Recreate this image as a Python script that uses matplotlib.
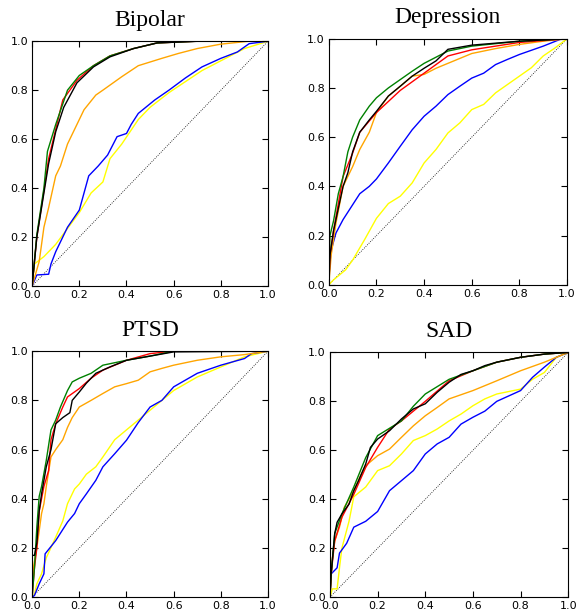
import matplotlib
matplotlib.use('Agg')
import matplotlib.pyplot as plt
import numpy as np

# ROC curves, as (fpr, tpr) pairs
titles = ['Bipolar', 'Depression', 'PTSD', 'SAD']
colors = ['yellow', 'blue', 'orange', 'red', 'green', 'black']

bipolar_yellow = [[0,0],[0.01,0.09],[0.05,0.12],[0.1,0.17],[0.15,0.235],[0.2,0.3],[0.25,0.38],[0.3,0.425],[0.33,0.52],[0.38,0.58],[0.45,0.68],[0.5,0.73],[0.58,0.79],[0.65,0.835],[0.72,0.88],[0.8,0.92],[0.9,0.97],[1,1]]
bipolar_blue = [[0,0],[0.02,0.045],[0.07,0.048],[0.08,0.09],[0.1,0.14],[0.15,0.24],[0.2,0.31],[0.24,0.45],[0.28,0.49],[0.32,0.535],[0.36,0.61],[0.4,0.623],[0.42,0.66],[0.45,0.705],[0.52,0.76],[0.58,0.8],[0.65,0.85],[0.72,0.895],[0.8,0.93],[0.87,0.956],[0.92,0.99],[1,1]]
bipolar_orange = [[0,0],[0.03,0.1],[0.05,0.24],[0.07,0.32],[0.1,0.45],[0.12,0.49],[0.15,0.58],[0.18,0.64],[0.22,0.72],[0.27,0.78],[0.3,0.8],[0.38,0.855],[0.45,0.9],[0.55,0.93],[0.62,0.95],[0.7,0.97],[0.8,0.988],[0.92,1],[1,1]]
bipolar_red = [[0,0],[0.02,0.2],[0.05,0.39],[0.07,0.52],[0.1,0.64],[0.13,0.76],[0.19,0.84],[0.26,0.9],[0.33,0.94],[0.43,0.97],[0.53,0.993],[0.7,1],[1,1]]
bipolar_green = [[0,0],[0.02,0.21],[0.05,0.4],[0.065,0.55],[0.1,0.66],[0.15,0.8],[0.2,0.86],[0.26,0.9],[0.33,0.94],[0.43,0.97],[0.53,0.993],[0.7,1],[1,1]]
bipolar_black = [[0,0],[0.02,0.2],[0.05,0.38],[0.07,0.5],[0.1,0.63],[0.134,0.73],[0.19,0.83],[0.26,0.895],[0.33,0.936],[0.43,0.97],[0.53,0.993],[0.71,1],[1,1]]

depression_yellow = [[0,0],[0.02,0.02],[0.07,0.06],[0.1,0.1],[0.15,0.183],[0.2,0.27],[0.25,0.33],[0.3,0.36],[0.35,0.414],[0.4,0.495],[0.45,0.55],[0.5,0.617],[0.55,0.658],[0.6,0.712],[0.65,0.733],[0.7,0.78],[0.75,0.814],[0.8,0.848],[0.85,0.882],[0.9,0.93],[0.95,0.963],[1,1]]
depression_blue = [[0,0],[0.005,0.09],[0.01,0.14],[0.03,0.21],[0.06,0.265],[0.1,0.325],[0.13,0.37],[0.17,0.4],[0.2,0.43],[0.25,0.495],[0.3,0.563],[0.35,0.63],[0.4,0.685],[0.45,0.726],[0.5,0.773],[0.55,0.807],[0.6,0.84],[0.65,0.86],[0.7,0.895],[0.75,0.916],[0.8,0.936],[0.9,0.97],[0.97,0.997],[1,1]]
depression_orange = [[0,0],[0.01,0.12],[0.03,0.25],[0.06,0.4],[0.1,0.48],[0.13,0.55],[0.17,0.62],[0.2,0.7],[0.25,0.767],[0.3,0.807],[0.35,0.848],[0.4,0.855],[0.45,0.88],[0.5,0.9],[0.55,0.92],[0.6,0.94],[0.7,0.96],[0.8,0.977],[0.9,0.99],[1,1]]
depression_red = [[0,0],[0.005,0.12],[0.02,0.22],[0.06,0.44],[0.1,0.535],[0.13,0.62],[0.2,0.7],[0.3,0.79],[0.4,0.86],[0.5,0.93],[0.6,0.955],[0.8,0.985],[1,1]]
depression_green = [[0,0],[0.005,0.2],[0.02,0.26],[0.04,0.37],[0.06,0.44],[0.08,0.54],[0.1,0.6],[0.13,0.67],[0.17,0.726],[0.2,0.76],[0.25,0.8],[0.3,0.834],[0.35,0.868],[0.4,0.9],[0.5,0.95],[0.6,0.97],[0.8,0.99],[1,1]]
depression_black = [[0,0],[0.005,0.12],[0.02,0.22],[0.06,0.4],[0.08,0.455],[0.1,0.54],[0.13,0.62],[0.17,0.67],[0.2,0.705],[0.25,0.767],[0.3,0.807],[0.35,0.848],[0.4,0.88],[0.45,0.91],[0.5,0.957],[0.6,0.974],[0.8,0.99],[1,1]]

ptsd_yellow = [[0,0],[0.01,0.013],[0.02,0.054],[0.04,0.095],[0.06,0.16],[0.1,0.244],[0.13,0.31],[0.15,0.38],[0.18,0.44],[0.2,0.46],[0.23,0.5],[0.27,0.53],[0.3,0.57],[0.35,0.64],[0.4,0.68],[0.45,0.72],[0.5,0.76],[0.6,0.84],[0.7,0.895],[0.8,0.936],[0.9,0.977],[1,1]]
ptsd_blue = [[0,0],[0.01,0.007],[0.03,0.054],[0.05,0.095],[0.055,0.176],[0.1,0.23],[0.15,0.305],[0.18,0.34],[0.2,0.38],[0.23,0.42],[0.27,0.475],[0.3,0.53],[0.35,0.583],[0.4,0.638],[0.45,0.71],[0.5,0.773],[0.55,0.8],[0.6,0.855],[0.7,0.91],[0.8,0.943],[0.9,0.97],[0.93,0.99],[1,1]]
ptsd_orange = [[0,0],[0.005,0.12],[0.02,0.2],[0.04,0.34],[0.05,0.38],[0.06,0.45],[0.08,0.57],[0.1,0.6],[0.13,0.64],[0.15,0.69],[0.17,0.73],[0.2,0.773],[0.25,0.8],[0.3,0.828],[0.35,0.855],[0.4,0.868],[0.45,0.882],[0.5,0.916],[0.55,0.93],[0.6,0.943],[0.7,0.963],[0.8,0.977],[0.9,0.986],[1,1]]
ptsd_red = [[0,0],[0.01,0.12],[0.02,0.2],[0.03,0.35],[0.05,0.45],[0.07,0.515],[0.08,0.64],[0.1,0.705],[0.13,0.773],[0.15,0.814],[0.2,0.848],[0.25,0.89],[0.3,0.923],[0.4,0.963],[0.5,0.99],[0.6,1],[1,1]]
ptsd_green = [[0,0],[0.01,0.12],[0.02,0.285],[0.03,0.41],[0.04,0.45],[0.06,0.556],[0.08,0.68],[0.1,0.72],[0.12,0.773],[0.15,0.84],[0.17,0.875],[0.2,0.89],[0.25,0.91],[0.3,0.943],[0.4,0.963],[0.5,0.98],[0.6,1],[1,1]]
ptsd_black = [[0,0],[0,0.17],[0.01,0.17],[0.02,0.22],[0.03,0.35],[0.04,0.42],[0.05,0.475],[0.06,0.53],[0.08,0.6],[0.1,0.705],[0.13,0.73],[0.16,0.75],[0.17,0.8],[0.2,0.834],[0.23,0.87],[0.27,0.91],[0.33,0.936],[0.4,0.963],[0.5,0.98],[0.6,0.997],[1,1]]

sad_yellow = [[0,0],[0.01,0.034],[0.03,0.034],[0.04,0.12],[0.05,0.2],[0.08,0.31],[0.1,0.41],[0.15,0.45],[0.2,0.517],[0.25,0.537],[0.3,0.585],[0.35,0.64],[0.4,0.66],[0.45,0.687],[0.5,0.72],[0.55,0.748],[0.6,0.782],[0.65,0.81],[0.7,0.83],[0.8,0.85],[0.85,0.89],[0.9,0.918],[0.95,0.98],[1,1]]
sad_blue = [[0,0],[0.005,0.095],[0.03,0.12],[0.04,0.18],[0.07,0.22],[0.1,0.286],[0.15,0.31],[0.2,0.35],[0.25,0.435],[0.3,0.476],[0.35,0.517],[0.4,0.585],[0.45,0.626],[0.5,0.653],[0.55,0.707],[0.6,0.735],[0.65,0.76],[0.7,0.8],[0.8,0.844],[0.85,0.898],[0.9,0.94],[0.95,0.98],[1,1]]
sad_orange = [[0,0],[0.01,0.16],[0.02,0.23],[0.04,0.286],[0.06,0.367],[0.1,0.435],[0.13,0.5],[0.15,0.537],[0.2,0.578],[0.25,0.605],[0.3,0.653],[0.35,0.7],[0.4,0.741],[0.45,0.775],[0.5,0.81],[0.6,0.844],[0.7,0.884],[0.8,0.925],[0.9,0.96],[1,1]]
sad_red = [[0,0],[0.005,0.095],[0.02,0.23],[0.05,0.326],[0.1,0.42],[0.15,0.53],[0.2,0.612],[0.25,0.687],[0.3,0.72],[0.4,0.8],[0.5,0.884],[0.6,0.925],[0.7,0.96],[0.8,0.98],[0.9,0.993],[1,1]]
sad_green = [[0,0],[0.005,0.095],[0.02,0.26],[0.05,0.34],[0.1,0.45],[0.15,0.57],[0.2,0.66],[0.3,0.72],[0.35,0.78],[0.4,0.83],[0.5,0.89],[0.6,0.925],[0.7,0.96],[0.8,0.98],[0.9,0.993],[1,1]]
sad_black = [[0,0],[0.005,0.095],[0.02,0.26],[0.03,0.306],[0.05,0.34],[0.08,0.38],[0.1,0.435],[0.12,0.476],[0.15,0.544],[0.17,0.612],[0.2,0.646],[0.25,0.68],[0.3,0.728],[0.35,0.769],[0.4,0.79],[0.45,0.837],[0.5,0.878],[0.55,0.91],[0.6,0.925],[0.65,0.946],[0.7,0.96],[0.8,0.98],[0.9,0.993],[1,1]]

panels = [
    [bipolar_yellow, bipolar_blue, bipolar_orange, bipolar_red, bipolar_green, bipolar_black],
    [depression_yellow, depression_blue, depression_orange, depression_red, depression_green, depression_black],
    [ptsd_yellow, ptsd_blue, ptsd_orange, ptsd_red, ptsd_green, ptsd_black],
    [sad_yellow, sad_blue, sad_orange, sad_red, sad_green, sad_black],
]

# axes boxes in figure fractions (left, bottom, width, height)
boxes = [
    [0.055, 0.535, 0.404, 0.398],
    [0.563, 0.537, 0.408, 0.400],
    [0.055, 0.029, 0.404, 0.400],
    [0.565, 0.029, 0.408, 0.398],
]

fig = plt.figure(figsize=(5.84, 6.15), dpi=100)
ticks = [0.0, 0.2, 0.4, 0.6, 0.8, 1.0]

for title, curves, box in zip(titles, panels, boxes):
    ax = fig.add_axes(box)
    ax.plot([0, 1], [0, 1], color='black', linestyle=':', linewidth=0.6)
    for pts, c in zip(curves, colors):
        pts = np.array(pts)
        ax.plot(pts[:, 0], pts[:, 1], color=c, linewidth=1.0)
    ax.set_xlim(0, 1)
    ax.set_ylim(0, 1)
    ax.set_xticks(ticks)
    ax.set_yticks(ticks)
    ax.set_xticklabels(['%.1f' % t for t in ticks])
    ax.set_yticklabels(['%.1f' % t for t in ticks])
    ax.tick_params(direction='in', top=True, right=True, labelsize=8, length=4, width=0.8, pad=3)
    for s in ax.spines.values():
        s.set_linewidth(0.8)
    ax.set_title(title, fontfamily='Liberation Serif', fontsize=17, pad=11)

fig.savefig('out.png', dpi=100)
